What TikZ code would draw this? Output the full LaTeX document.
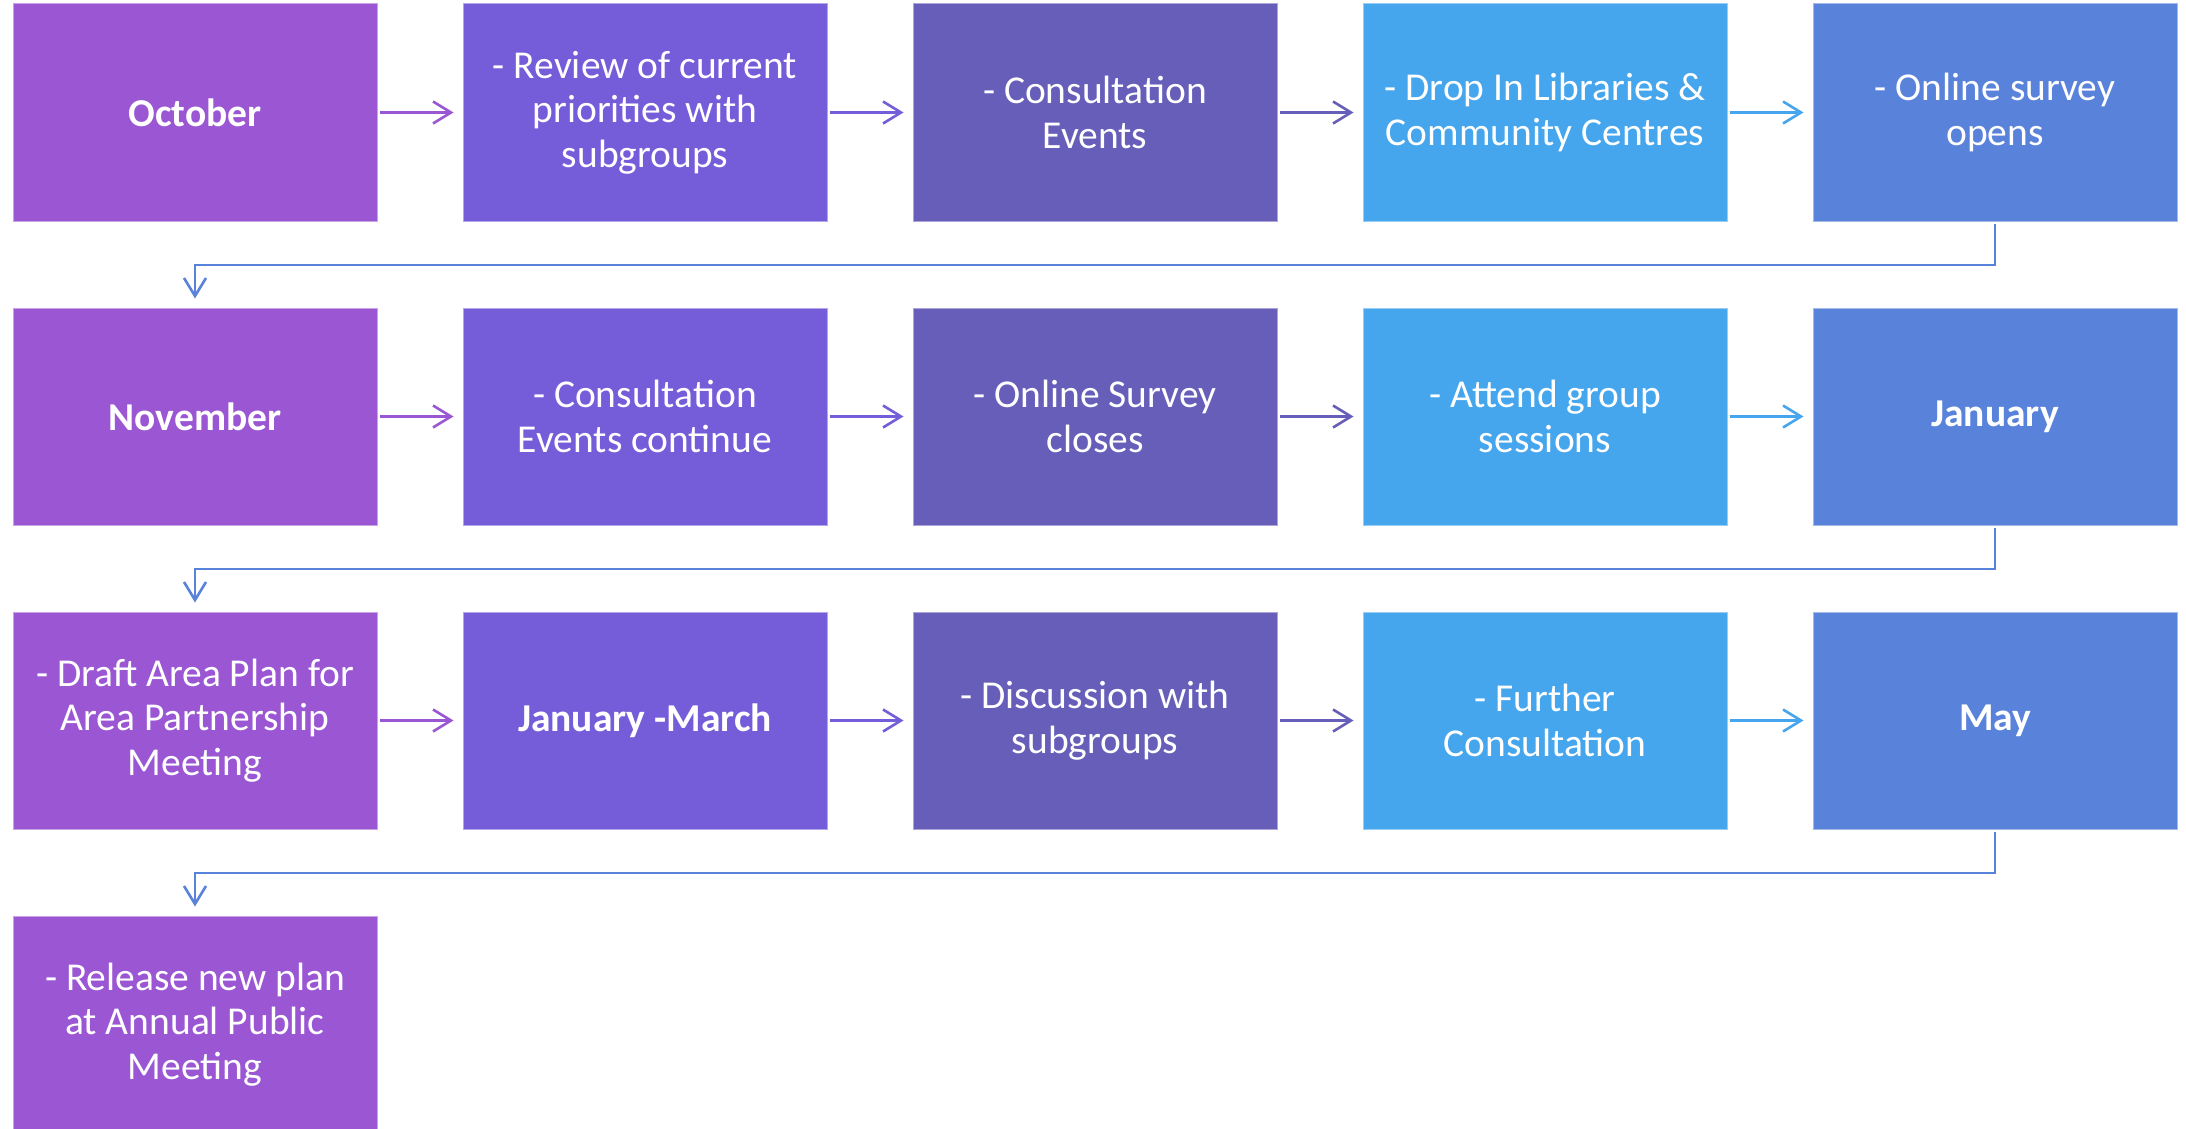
\documentclass[tikz,border=0pt]{standalone}
\usepackage{fontspec}
\setmainfont{Carlito}
\usetikzlibrary{arrows.meta}
\definecolor{cA}{HTML}{9B57D3}
\definecolor{cB}{HTML}{755DD9}
\definecolor{cC}{HTML}{665EB8}
\definecolor{cD}{HTML}{45A5ED}
\definecolor{cE}{HTML}{5982DB}
\begin{document}
\begin{tikzpicture}[x=1pt,y=-1pt,
  box/.style={minimum width=364pt, minimum height=217pt, inner sep=0pt,
    text=white, align=center, font=\fontsize{39.5}{44.6}\selectfont,
    fill=#1, draw=#1!55!white, line width=1pt},
  flow/.style={draw=#1, line width=2.6pt,
    -{Straight Barb[length=18pt,width=22pt,line width=2.6pt]},
    shorten <=2pt, shorten >=9pt},
  ret/.style={draw=cE, line width=2.6pt,
    -{Straight Barb[length=18pt,width=22pt,line width=2.6pt]},
    shorten <=2pt, shorten >=9pt}]
\useasboundingbox (0,0) rectangle (2186,1129);
\clip (0,0) rectangle (2186,1129);
% row 1
\node[box=cA] (r1c1) at (195,112.5) {\textbf{October}};
\node[box=cB] (r1c2) at (645,112.5) {- Review of current\\priorities with\\subgroups};
\node[box=cC] (r1c3) at (1095,112.5) {- Consultation\\Events};
\node[box=cD] (r1c4) at (1545,112.5) {- Drop In Libraries \&\\Community Centres};
\node[box=cE] (r1c5) at (1995,112.5) {- Online survey\\opens};
% row 2
\node[box=cA] (r2c1) at (195,416.5) {\textbf{November}};
\node[box=cB] (r2c2) at (645,416.5) {- Consultation\\Events continue};
\node[box=cC] (r2c3) at (1095,416.5) {- Online Survey\\closes};
\node[box=cD] (r2c4) at (1545,416.5) {- Attend group\\sessions};
\node[box=cE] (r2c5) at (1995,416.5) {\textbf{January}};
% row 3
\node[box=cA] (r3c1) at (195,720.5) {- Draft Area Plan for\\Area Partnership\\Meeting};
\node[box=cB] (r3c2) at (645,720.5) {\textbf{January -March}};
\node[box=cC] (r3c3) at (1095,720.5) {- Discussion with\\subgroups};
\node[box=cD] (r3c4) at (1545,720.5) {- Further\\Consultation};
\node[box=cE] (r3c5) at (1995,720.5) {\textbf{May}};
% row 4
\node[box=cA] (r4c1) at (195,1024.5) {- Release new plan\\at Annual Public\\Meeting};
% horizontal arrows
\foreach \r in {1,2,3}{
  \draw[flow=cA] (r\r c1.east) -- (r\r c2.west);
  \draw[flow=cB] (r\r c2.east) -- (r\r c3.west);
  \draw[flow=cC] (r\r c3.east) -- (r\r c4.west);
  \draw[flow=cD] (r\r c4.east) -- (r\r c5.west);
}
% return connectors
\draw[ret] (r1c5.south) -- ++(0,43.5) -| (r2c1.north);
\draw[ret] (r2c5.south) -- ++(0,43.5) -| (r3c1.north);
\draw[ret] (r3c5.south) -- ++(0,43.5) -| (r4c1.north);
\end{tikzpicture}
\end{document}
